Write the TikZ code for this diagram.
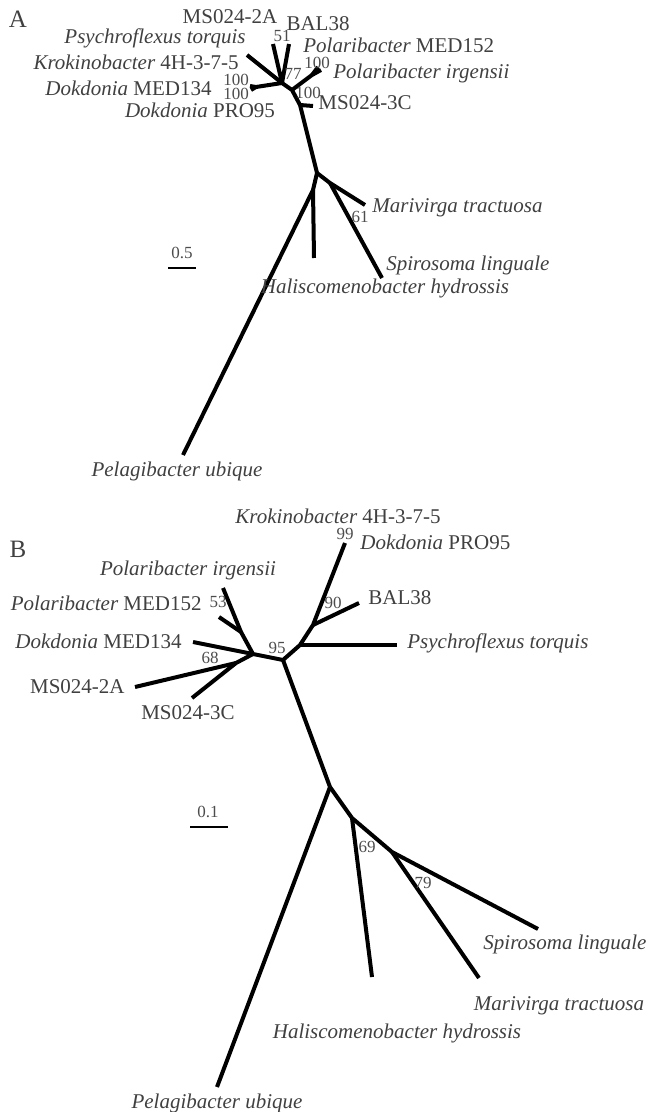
\documentclass[tikz,border=0pt]{standalone}
\usepackage{fontspec}
\setmainfont{Liberation Serif}
\tikzset{
	branch/.style={line width=2pt, line join=round},
	taxon/.style={inner sep=0pt, text=black!75, font=\fontsize{10.5}{12}\selectfont},
	boot/.style={inner sep=0pt, text=black!70, font=\fontsize{8.5}{9}\selectfont},
	panel/.style={inner sep=0pt, text=black!75, font=\fontsize{12.5}{14}\selectfont},
	scalebar/.style={line width=1.3pt}
}

\begin{document}
\begin{tikzpicture}[x=0.5pt, y=-0.5pt]
	\useasboundingbox (0,0) rectangle (649,1112);

	% tree A
	\node[panel] (labA) at (18,19) {A};
	\coordinate (a1) at (282,83);
	\coordinate (a2) at (292,90);
	\coordinate (a3) at (312,75);
	\coordinate (a4) at (256,87);
	\coordinate (a5) at (300,105);
	\coordinate (a6) at (317,173);
	\coordinate (a7) at (313,190);
	\coordinate (a8) at (330,183);
	\coordinate (aMSa) at (273,44);
	\coordinate (aBAL) at (289,44);
	\coordinate (aPsy) at (247,55);
	\coordinate (aDokA) at (250,86);
	\coordinate (aDokB) at (251,90);
	\coordinate (aPolA) at (321,70);
	\coordinate (aPolB) at (318,67);
	\coordinate (aMSc) at (313,106);
	\coordinate (aPel) at (183,455);
	\coordinate (aHal) at (314,258);
	\coordinate (aMar) at (365,205);
	\coordinate (aSpi) at (382,278);

	\draw[branch] (aMSa) -- (a1) -- (aBAL);
	\draw[branch] (aPsy) -- (a1);
	\draw[branch] (aDokA) -- (a4) -- (a1) -- (a2) -- (a5) -- (a6);
	\draw[branch] (aDokB) -- (a4);
	\draw[branch] (a2) -- (a3) -- (aPolA);
	\draw[branch] (a3) -- (aPolB);
	\draw[branch] (a5) -- (aMSc);
	\draw[branch] (a6) -- (a7) -- (aPel);
	\draw[branch] (a7) -- (aHal);
	\draw[branch] (a6) -- (a8) -- (aMar);
	\draw[branch] (a8) -- (aSpi);

	\node[taxon] (tAMSa) at (230,17) {MS024-2A};
	\node[taxon] (tABAL) at (318,24) {BAL38};
	\node[taxon] (tAPsy) at (155,38) {\itshape Psychroflexus torquis};
	\node[taxon, anchor=west] (tAPolM) at (303,45) {\itshape Polaribacter\upshape\ MED152};
	\node[taxon, anchor=east] (tAKro) at (239,62) {\itshape Krokinobacter\upshape\ 4H-3-7-5};
	\node[taxon, anchor=east] (tADokM) at (212,88) {\itshape Dokdonia\upshape\ MED134};
	\node[taxon] (tADokP) at (200,110) {\itshape Dokdonia\upshape\ PRO95};
	\node[taxon, anchor=west] (tAPolI) at (333,73) {\itshape Polaribacter irgensii};
	\node[taxon, anchor=west] (tAMSc) at (318,103) {MS024-3C};
	\node[taxon, anchor=west] (tAMar) at (372,208) {\itshape Marivirga tractuosa};
	\node[taxon, anchor=west] (tASpi) at (386,265) {\itshape Spirosoma linguale};
	\node[taxon] (tAHal) at (385,288) {\itshape Haliscomenobacter hydrossis};
	\node[taxon] (tAPel) at (177,471) {\itshape Pelagibacter ubique};

	\node[boot] (bsA1) at (282,36) {51};
	\node[boot] (bsA2) at (236,80) {100};
	\node[boot] (bsA3) at (236,94) {100};
	\node[boot] (bsA4) at (293,74) {77};
	\node[boot] (bsA5) at (317,63) {100};
	\node[boot] (bsA6) at (308,93) {100};
	\node[boot] (bsA7) at (360,217) {61};

	\coordinate (sA1) at (168,268);
	\coordinate (sA2) at (196,268);
	\draw[scalebar] (sA1) -- (sA2);
	\node[boot] (scA) at (182,253) {0.5};

	% tree B
	\node[panel] (labB) at (18,549) {B};
	\coordinate (b1) at (283,660);
	\coordinate (b2) at (300,645);
	\coordinate (b3) at (313,625);
	\coordinate (b4) at (253,654);
	\coordinate (b5) at (241,632);
	\coordinate (b6) at (236,663);
	\coordinate (b7) at (330,787);
	\coordinate (b8) at (352,818);
	\coordinate (b9) at (392,852);
	\coordinate (bDok) at (345,543);
	\coordinate (bBAL) at (359,603);
	\coordinate (bPsy) at (397,645);
	\coordinate (bPolI) at (223,588);
	\coordinate (bPolM) at (219,617);
	\coordinate (bDokM) at (193,642);
	\coordinate (bMSa) at (135,687);
	\coordinate (bMSc) at (192,698);
	\coordinate (bPel) at (217,1087);
	\coordinate (bHal) at (372,977);
	\coordinate (bMar) at (479,978);
	\coordinate (bSpi) at (538,929);

	\draw[branch] (bDok) -- (b3) -- (b2) -- (b1) -- (b7);
	\draw[branch] (b3) -- (bBAL);
	\draw[branch] (b2) -- (bPsy);
	\draw[branch] (b1) -- (b4) -- (b5) -- (bPolI);
	\draw[branch] (b5) -- (bPolM);
	\draw[branch] (b4) -- (bDokM);
	\draw[branch] (b4) -- (b6) -- (bMSa);
	\draw[branch] (b6) -- (bMSc);
	\draw[branch] (b7) -- (bPel);
	\draw[branch] (b7) -- (b8) -- (b9) -- (bSpi);
	\draw[branch] (b8) -- (bHal);
	\draw[branch] (b9) -- (bMar);

	\node[taxon] (tBKro) at (338,516) {\itshape Krokinobacter\upshape\ 4H-3-7-5};
	\node[taxon, anchor=west] (tBDokP) at (360,542) {\itshape Dokdonia\upshape\ PRO95};
	\node[taxon] (tBPolI) at (188,570) {\itshape Polaribacter irgensii};
	\node[taxon, anchor=east] (tBPolM) at (202,603) {\itshape Polaribacter\upshape\ MED152};
	\node[taxon, anchor=west] (tBBAL) at (368,598) {BAL38};
	\node[taxon, anchor=east] (tBDokM) at (182,641) {\itshape Dokdonia\upshape\ MED134};
	\node[taxon, anchor=west] (tBPsy) at (407,643) {\itshape Psychroflexus torquis};
	\node[taxon, anchor=east] (tBMSa) at (125,687) {MS024-2A};
	\node[taxon] (tBMSc) at (188,713) {MS024-3C};
	\node[taxon] (tBSpi) at (565,944) {\itshape Spirosoma linguale};
	\node[taxon] (tBMar) at (559,1006) {\itshape Marivirga tractuosa};
	\node[taxon] (tBHal) at (397,1033) {\itshape Haliscomenobacter hydrossis};
	\node[taxon] (tBPel) at (217,1103) {\itshape Pelagibacter ubique};

	\node[boot] (bsB1) at (345,534) {99};
	\node[boot] (bsB2) at (333,603) {90};
	\node[boot] (bsB3) at (218,602) {53};
	\node[boot] (bsB4) at (277,648) {95};
	\node[boot] (bsB5) at (210,658) {68};
	\node[boot] (bsB6) at (367,847) {69};
	\node[boot] (bsB7) at (423,883) {79};

	\coordinate (sB1) at (190,827);
	\coordinate (sB2) at (228,827);
	\draw[scalebar] (sB1) -- (sB2);
	\node[boot] (scB) at (208,812) {0.1};
\end{tikzpicture}
\end{document}
